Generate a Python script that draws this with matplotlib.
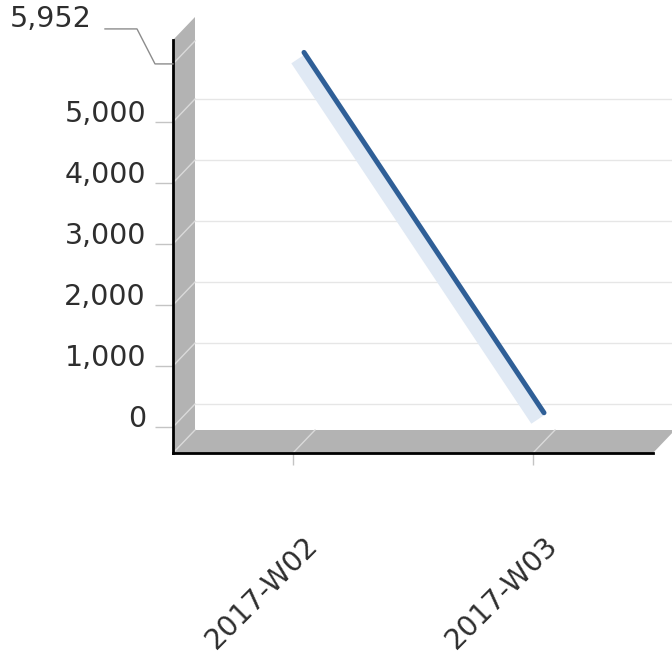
import matplotlib
matplotlib.use("Agg")
import matplotlib.pyplot as plt
import matplotlib.transforms as mtransforms
from matplotlib.patches import Polygon
from matplotlib.lines import Line2D

# data
weeks = ["2017-W02", "2017-W03"]
counts = [5952, 45]
y_ticks = [0, 1000, 2000, 3000, 4000, 5000]

DPI = 100
DX, DY = 22, 23          # pseudo-3D depth offset in pixels
TEXT = "#2e2e2e"
WALL = "#b3b3b3"
FS = 20.5

fig = plt.figure(figsize=(6.72, 6.61), dpi=DPI)
ax = fig.add_axes([173 / 672, 208 / 661, 480 / 672, 413 / 661])
ax.set_facecolor("none")
ax.set_xlim(-0.5, 1.5)
ax.set_ylim(-426, 6344)


def at(x, y, base):
    # pixel offsets measured from the point (x, y) of transform `base`
    return mtransforms.IdentityTransform() + mtransforms.ScaledTranslation(x, y, base)


def depth(frac):
    return ax.transData + mtransforms.ScaledTranslation(
        frac * DX / DPI, frac * DY / DPI, fig.dpi_scale_trans)


# side wall and floor
W, H = ax.bbox.width, ax.bbox.height
corner = at(0, 0, ax.transAxes)
ax.add_patch(Polygon([(0, 0), (0, H), (DX, H + DY), (DX, DY)], closed=True,
                     transform=corner, facecolor=WALL, edgecolor="none",
                     clip_on=False, zorder=0))
ax.add_patch(Polygon([(0, 0), (W, 0), (W + DX, DY), (DX, DY)], closed=True,
                     transform=corner, facecolor=WALL, edgecolor="none",
                     clip_on=False, zorder=0))

# grid on the back wall
ax.hlines(y_ticks, -0.5, 1.5, colors="#e6e6e6", lw=1, transform=depth(1),
          clip_on=False, zorder=1)

# diagonal tick lines on wall and floor
mx = max(counts)
for v in y_ticks + [mx]:
    ax.add_line(Line2D([0, DX], [0, DY], transform=at(-0.5, v, ax.transData),
                       color="#dadada", lw=1, clip_on=False, zorder=1))
for x in [-0.5, 0, 1]:
    ax.add_line(Line2D([0, DX], [0, DY], transform=at(x, 0, ax.get_xaxis_transform()),
                       color="#dadada", lw=1, clip_on=False, zorder=1))

# series
xs = list(range(len(weeks)))
ax.plot(xs, counts, transform=depth(0.2), color="#e0e9f4", lw=10.5,
        solid_capstyle="butt", clip_on=False, zorder=2)
ax.plot(xs, counts, transform=depth(0.5), color="#2f5f97", lw=3.6,
        solid_capstyle="round", clip_on=False, zorder=3)

# axes lines
for s in ["top", "right"]:
    ax.spines[s].set_visible(False)
for s in ["left", "bottom"]:
    ax.spines[s].set_color("black")
    ax.spines[s].set_linewidth(2)

ax.set_yticks(y_ticks, [f"{v:,}" for v in y_ticks])
ax.tick_params(axis="y", length=13, width=1, color="#c4c4c4", pad=6.5,
               labelsize=FS, labelcolor=TEXT)
for lab in ax.get_yticklabels():
    lab.set_va("baseline")

ax.set_xticks(xs, [""] * len(xs))
ax.tick_params(axis="x", length=8.6, width=1, color="#c4c4c4")
lab_trans = ax.get_xaxis_transform() + mtransforms.ScaledTranslation(
    26 / DPI, -94 / DPI, fig.dpi_scale_trans)
for i, w in enumerate(weeks):
    ax.text(i, 0, w, transform=lab_trans, rotation=45, rotation_mode="anchor",
            ha="right", va="baseline", fontsize=FS, color=TEXT)

# max value label with leader line
lead = at(-0.5, mx, ax.transData)
ax.add_line(Line2D([-68, -36, -18, 0], [35, 35, 0, 0], transform=lead,
                   color="#8c8c8c", lw=1, clip_on=False, zorder=4))
ax.text(-81, 37, f"{mx:,}", transform=lead, ha="right", va="baseline",
        fontsize=FS, color=TEXT)

fig.savefig("out.png", dpi=DPI)
